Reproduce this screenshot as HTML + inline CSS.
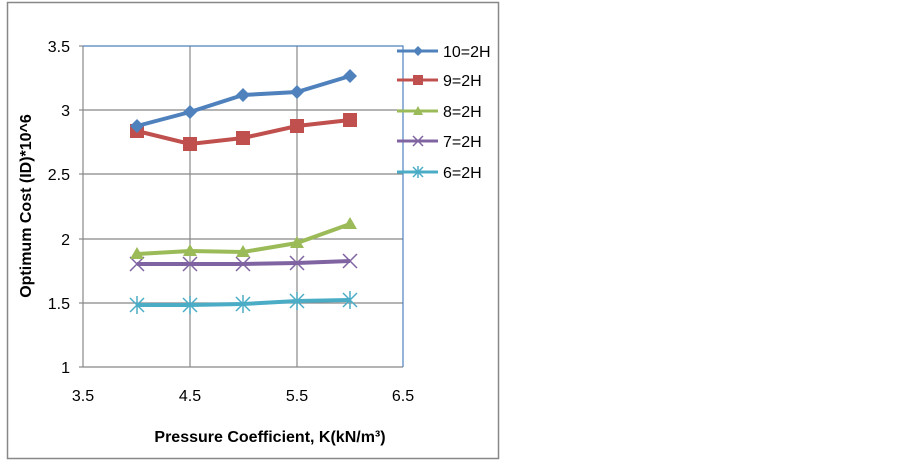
<!DOCTYPE html>
<html><head><meta charset="utf-8"><style>
body{margin:0;background:#fff;width:903px;height:461px;overflow:hidden}
svg text{font-family:"Liberation Sans",Arial,sans-serif;fill:#000}
</style></head><body>
<svg width="903" height="461" viewBox="0 0 903 461" xmlns="http://www.w3.org/2000/svg">
<rect x="7.5" y="2.5" width="491" height="456" fill="#fff" stroke="#888" stroke-width="1.5"/>
<g stroke="#888" stroke-width="1.2">
<line x1="83" y1="303" x2="403" y2="303"/>
<line x1="83" y1="239" x2="403" y2="239"/>
<line x1="83" y1="174" x2="403" y2="174"/>
<line x1="83" y1="110" x2="403" y2="110"/>
<line x1="190" y1="46" x2="190" y2="367"/>
<line x1="297" y1="46" x2="297" y2="367"/>
<line x1="83" y1="46" x2="83" y2="367"/>
<line x1="83" y1="367" x2="403" y2="367"/>
<line x1="79" y1="367" x2="83" y2="367"/><line x1="79" y1="303" x2="83" y2="303"/><line x1="79" y1="239" x2="83" y2="239"/><line x1="79" y1="174" x2="83" y2="174"/><line x1="79" y1="110" x2="83" y2="110"/><line x1="79" y1="46" x2="83" y2="46"/>
</g>
<polyline points="83,46 403,46 403,367" fill="none" stroke="#4f81bd" stroke-width="1.2"/>
<g font-size="16" text-anchor="end">
<text x="70" y="373">1</text><text x="70" y="309">1.5</text><text x="70" y="245">2</text><text x="70" y="180">2.5</text><text x="70" y="116">3</text><text x="70" y="52">3.5</text>
</g>
<g font-size="16" text-anchor="middle">
<text x="83" y="401">3.5</text><text x="190" y="401">4.5</text><text x="297" y="401">5.5</text><text x="403" y="401">6.5</text>
</g>
<text x="270" y="442" font-size="16" font-weight="bold" text-anchor="middle">Pressure Coefficient, K(kN/m³)</text>
<text transform="translate(31,206) rotate(-90)" font-size="16" font-weight="bold" text-anchor="middle">Optimum Cost (ID)*10^6</text>
<!-- 6=2H -->
<polyline points="137,305 190,305 243,304 297,301 350,300" fill="none" stroke="#4bacc6" stroke-width="4"/>
<g stroke="#4bacc6" stroke-width="1.5">
<path d="M130,298l14,14M144,298l-14,14M137,296v18M183,298l14,14M197,298l-14,14M190,296v18M236,297l14,14M250,297l-14,14M243,295v18M290,294l14,14M304,294l-14,14M297,292v18M343,293l14,14M357,293l-14,14M350,291v18"/>
</g>
<!-- 7=2H -->
<polyline points="137,264 190,264 243,264 297,263 350,261" fill="none" stroke="#8064a2" stroke-width="4"/>
<g stroke="#8064a2" stroke-width="1.5">
<path d="M130,257l14,14M144,257l-14,14M183,257l14,14M197,257l-14,14M236,257l14,14M250,257l-14,14M290,256l14,14M304,256l-14,14M343,254l14,14M357,254l-14,14"/>
</g>
<!-- 8=2H -->
<polyline points="137,254 190,251 243,252 297,243 350,224" fill="none" stroke="#9bbb59" stroke-width="4"/>
<g fill="#9bbb59">
<path d="M130,259l7,-12l7,12zM183,256l7,-12l7,12zM236,257l7,-12l7,12zM290,248l7,-12l7,12zM343,229l7,-12l7,12z"/>
</g>
<!-- 9=2H -->
<polyline points="137,131 190,144 243,138 297,126 350,120" fill="none" stroke="#c0504d" stroke-width="4"/>
<g fill="#c0504d">
<rect x="130" y="124" width="14" height="14"/><rect x="183" y="137" width="14" height="14"/><rect x="236" y="131" width="14" height="14"/><rect x="290" y="119" width="14" height="14"/><rect x="343" y="113" width="14" height="14"/>
</g>
<!-- 10=2H -->
<polyline points="137,126 190,112 243,95 297,92 350,76" fill="none" stroke="#4f81bd" stroke-width="4"/>
<g fill="#4f81bd">
<path d="M137,119l7,7l-7,7l-7,-7zM190,105l7,7l-7,7l-7,-7zM243,88l7,7l-7,7l-7,-7zM297,85l7,7l-7,7l-7,-7zM350,69l7,7l-7,7l-7,-7z"/>
</g>
<!-- legend -->
<g stroke-width="3">
<line x1="397" y1="51" x2="438" y2="51" stroke="#4f81bd"/>
<line x1="397" y1="80" x2="438" y2="80" stroke="#c0504d"/>
<line x1="397" y1="111" x2="438" y2="111" stroke="#9bbb59"/>
<line x1="397" y1="141" x2="438" y2="141" stroke="#8064a2"/>
<line x1="397" y1="172" x2="438" y2="172" stroke="#4bacc6"/>
</g>
<path d="M418,46l5,5l-5,5l-5,-5z" fill="#4f81bd"/>
<rect x="413" y="75" width="10" height="10" fill="#c0504d"/>
<path d="M413,115l5,-9l5,9z" fill="#9bbb59"/>
<path d="M413,136l10,10M423,136l-10,10" stroke="#8064a2" stroke-width="1.5"/>
<path d="M413,167l10,10M423,167l-10,10M418,166v12" stroke="#4bacc6" stroke-width="1.5"/>
<g font-size="16">
<text x="443" y="57">10=2H</text><text x="443" y="86">9=2H</text><text x="443" y="117">8=2H</text><text x="443" y="147">7=2H</text><text x="443" y="178">6=2H</text>
</g>
</svg>
</body></html>
